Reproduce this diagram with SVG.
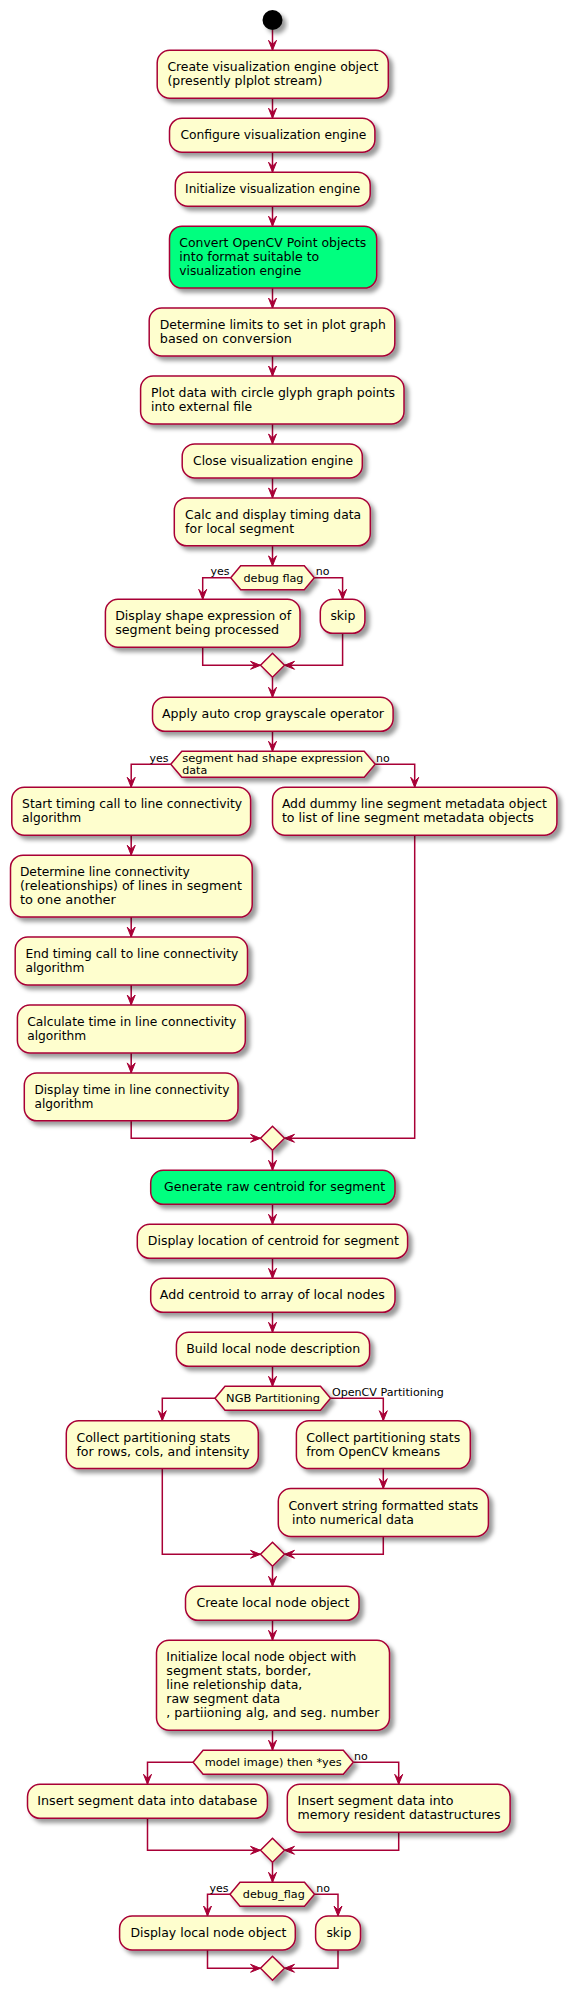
<svg xmlns="http://www.w3.org/2000/svg" width="568" height="1991" viewBox="0 0 568 1991">
<defs>
<filter id="sh" x="-20%" y="-20%" width="150%" height="160%">
<feGaussianBlur in="SourceAlpha" stdDeviation="2"/>
<feColorMatrix type="matrix" values="0 0 0 0 0  0 0 0 0 0  0 0 0 0 0  0 0 0 0.4 0"/>
<feOffset dx="4" dy="4" result="s"/>
<feBlend in="SourceGraphic" in2="s" mode="normal"/>
</filter>
<marker id="ah" markerUnits="userSpaceOnUse" orient="auto" viewBox="-11 -5 12 10" markerWidth="12" markerHeight="10" refX="0" refY="0">
<path d="M-10,-4 L0,0 L-10,4 L-6,0 Z" fill="#A80036" stroke="#A80036" stroke-width="1"/>
</marker>
</defs>
<style>
.a{fill:#FEFECE;stroke:#A80036;stroke-width:1.5;filter:url(#sh)}
.g{fill:#00FF7F;stroke:#A80036;stroke-width:1.5;filter:url(#sh)}
.t{font-family:"DejaVu Sans",sans-serif;font-size:12px;fill:#000}
.s{font-family:"DejaVu Sans",sans-serif;font-size:11px;fill:#000}
.l{fill:none;stroke:#A80036;stroke-width:1.5}
.m{marker-end:url(#ah)}
</style>
<rect width="568" height="1991" fill="#FFFFFF"/>

<g id="connectors">
<path class="l m" d="M272.5,30 V50.3"/>
<path class="l m" d="M272.5,98.2 V118.2"/>
<path class="l m" d="M272.5,152.2 V172.2"/>
<path class="l m" d="M272.5,206.2 V226.2"/>
<path class="l m" d="M272.5,288.1 V308.1"/>
<path class="l m" d="M272.5,356 V376"/>
<path class="l m" d="M272.5,423.9 V443.9"/>
<path class="l m" d="M272.5,477.9 V497.9"/>
<path class="l m" d="M272.5,545.8 V565.8"/>
<path class="l m" d="M230.7,577.8 H202.7 V599.3"/>
<path class="l m" d="M314.3,577.8 H342.6 V599.3"/>
<path class="l m" d="M202.7,647.2 V665.3 H260.5"/>
<path class="l m" d="M342.6,633.3 V665.3 H284.5"/>
<path class="l m" d="M272.5,677.3 V697.3"/>
<path class="l m" d="M272.5,731.3 V751.3"/>
<path class="l m" d="M170.8,764.3 H131.2 V787.3"/>
<path class="l m" d="M375.2,764.3 H414.7 V787.3"/>
<path class="l m" d="M131.2,835.2 V855.2"/>
<path class="l m" d="M131.2,917.1 V937.1"/>
<path class="l m" d="M131.2,985 V1005"/>
<path class="l m" d="M131.2,1052.9 V1072.9"/>
<path class="l m" d="M131.2,1120.8 V1138.3 H260.5"/>
<path class="l m" d="M414.7,835.2 V1138.3 H284.5"/>
<path class="l m" d="M272.5,1150.3 V1170.3"/>
<path class="l m" d="M272.5,1204.3 V1224.3"/>
<path class="l m" d="M272.5,1258.3 V1278.3"/>
<path class="l m" d="M272.5,1312.3 V1332.3"/>
<path class="l m" d="M272.5,1366.3 V1386.3"/>
<path class="l m" d="M215,1398.3 H162.3 V1420.7"/>
<path class="l m" d="M330.5,1398.3 H383.3 V1420.7"/>
<path class="l m" d="M383.3,1468.6 V1488.6"/>
<path class="l m" d="M162.3,1468.6 V1554.3 H260.5"/>
<path class="l m" d="M383.3,1536.5 V1554.3 H284.5"/>
<path class="l m" d="M272.5,1566.3 V1586.3"/>
<path class="l m" d="M272.5,1620.3 V1640.3"/>
<path class="l m" d="M272.5,1730.2 V1750.2"/>
<path class="l m" d="M193.1,1762.2 H147.5 V1784.3"/>
<path class="l m" d="M353.3,1762.2 H398.7 V1784.3"/>
<path class="l m" d="M147.5,1818.3 V1850.3 H260.5"/>
<path class="l m" d="M398.7,1832.2 V1850.3 H284.5"/>
<path class="l m" d="M272.5,1862.3 V1882.3"/>
<path class="l m" d="M230,1894.3 H207.5 V1916"/>
<path class="l m" d="M314.5,1894.3 H338 V1916"/>
<path class="l m" d="M207.5,1950 V1968.3 H260.5"/>
<path class="l m" d="M338,1950 V1968.3 H284.5"/>
<text class="s" x="210.5" y="574.5">yes</text>
<text class="s" x="315.8" y="574.5">no</text>
<text class="s" x="149.6" y="761.5">yes</text>
<text class="s" x="376" y="761.5">no</text>
<text class="s" x="331.9" y="1395.8" textLength="112" lengthAdjust="spacingAndGlyphs">OpenCV Partitioning</text>
<text class="s" x="354" y="1759.5">no</text>
<text class="s" x="209.4" y="1891.6">yes</text>
<text class="s" x="316.3" y="1891.6">no</text>
</g>

<g id="start"><circle cx="272.5" cy="20" r="10" fill="#000000" filter="url(#sh)"/></g>

<g id="n1"><rect class="a" x="157.2" y="50.3" width="231.1" height="47.9" rx="12.5"/>
<text class="t" x="167.4" y="71.4" textLength="211" lengthAdjust="spacingAndGlyphs">Create visualization engine object</text>
<text class="t" x="167.4" y="85.4" textLength="155" lengthAdjust="spacingAndGlyphs">(presently plplot stream)</text></g>

<g id="n2"><rect class="a" x="169.5" y="118.2" width="205.4" height="34" rx="12.5"/>
<text class="t" x="180.4" y="139.3" textLength="186" lengthAdjust="spacingAndGlyphs">Configure visualization engine</text></g>

<g id="n3"><rect class="a" x="175.3" y="172.2" width="194.9" height="34" rx="12.5"/>
<text class="t" x="185.1" y="193.3" textLength="175" lengthAdjust="spacingAndGlyphs">Initialize visualization engine</text></g>

<g id="n4"><rect class="g" x="169.5" y="226.2" width="207.2" height="61.9" rx="12.5"/>
<text class="t" x="179.3" y="247.3" textLength="187" lengthAdjust="spacingAndGlyphs">Convert OpenCV Point objects</text>
<text class="t" x="179.3" y="261.3" textLength="140" lengthAdjust="spacingAndGlyphs">into format suitable to</text>
<text class="t" x="179.3" y="275.3" textLength="122" lengthAdjust="spacingAndGlyphs">visualization engine</text></g>

<g id="n5"><rect class="a" x="149.2" y="308.1" width="245.6" height="47.9" rx="12.5"/>
<text class="t" x="159.8" y="329.2" textLength="226" lengthAdjust="spacingAndGlyphs">Determine limits to set in plot graph</text>
<text class="t" x="159.8" y="343.2" textLength="132" lengthAdjust="spacingAndGlyphs">based on conversion</text></g>

<g id="n6"><rect class="a" x="140.6" y="376" width="263.4" height="47.9" rx="12.5"/>
<text class="t" x="151.1" y="397.1" textLength="244" lengthAdjust="spacingAndGlyphs">Plot data with circle glyph graph points</text>
<text class="t" x="151.1" y="411.1" textLength="101" lengthAdjust="spacingAndGlyphs">into external file</text></g>

<g id="n7"><rect class="a" x="182.2" y="443.9" width="180.1" height="34" rx="12.5"/>
<text class="t" x="193.1" y="465" textLength="160" lengthAdjust="spacingAndGlyphs">Close visualization engine</text></g>

<g id="n8"><rect class="a" x="174.3" y="497.9" width="196" height="47.9" rx="12.5"/>
<text class="t" x="185.1" y="519" textLength="176" lengthAdjust="spacingAndGlyphs">Calc and display timing data</text>
<text class="t" x="185.1" y="533" textLength="109" lengthAdjust="spacingAndGlyphs">for local segment</text></g>

<g id="d1"><polygon class="a" points="230.7,577.8 240.7,565.8 304.3,565.8 314.3,577.8 304.3,589.8 240.7,589.8"/>
<text class="s" x="243.5" y="581.8" textLength="60" lengthAdjust="spacingAndGlyphs">debug flag</text></g>

<g id="n9"><rect class="a" x="105.4" y="599.3" width="194.6" height="47.9" rx="12.5"/>
<text class="t" x="115.2" y="620.4" textLength="176" lengthAdjust="spacingAndGlyphs">Display shape expression of</text>
<text class="t" x="115.2" y="634.4" textLength="164" lengthAdjust="spacingAndGlyphs">segment being processed</text></g>

<g id="n10"><rect class="a" x="320.3" y="599.3" width="44.6" height="34" rx="12.5"/>
<text class="t" x="330.4" y="620.4" textLength="25" lengthAdjust="spacingAndGlyphs">skip</text></g>

<g id="m1"><polygon class="a" points="272.5,653.3 284.5,665.3 272.5,677.3 260.5,665.3"/></g>

<g id="n11"><rect class="a" x="152.5" y="697.3" width="240.6" height="34" rx="12.5"/>
<text class="t" x="162" y="718.4" textLength="222" lengthAdjust="spacingAndGlyphs">Apply auto crop grayscale operator</text></g>

<g id="d2"><polygon class="a" points="170.8,764.3 181.8,751.3 364.2,751.3 375.2,764.3 364.2,777.3 181.8,777.3"/>
<text class="s" x="182.2" y="762.3" textLength="181" lengthAdjust="spacingAndGlyphs">segment had shape expression</text>
<text class="s" x="182.2" y="773.7" textLength="25" lengthAdjust="spacingAndGlyphs">data</text></g>

<g id="n12"><rect class="a" x="11.8" y="787.3" width="238.8" height="47.9" rx="12.5"/>
<text class="t" x="22.1" y="808.4" textLength="220" lengthAdjust="spacingAndGlyphs">Start timing call to line connectivity</text>
<text class="t" x="22.1" y="822.4" textLength="59" lengthAdjust="spacingAndGlyphs">algorithm</text></g>

<g id="n13"><rect class="a" x="272.5" y="787.3" width="284.4" height="47.9" rx="12.5"/>
<text class="t" x="281.9" y="808.4" textLength="265" lengthAdjust="spacingAndGlyphs">Add dummy line segment metadata object</text>
<text class="t" x="281.9" y="822.4" textLength="252" lengthAdjust="spacingAndGlyphs">to list of line segment metadata objects</text></g>

<g id="n14"><rect class="a" x="10.5" y="855.2" width="241.7" height="61.9" rx="12.5"/>
<text class="t" x="19.9" y="876.3" textLength="170" lengthAdjust="spacingAndGlyphs">Determine line connectivity</text>
<text class="t" x="19.9" y="890.3" textLength="222" lengthAdjust="spacingAndGlyphs">(releationships) of lines in segment</text>
<text class="t" x="19.9" y="904.3" textLength="96" lengthAdjust="spacingAndGlyphs">to one another</text></g>

<g id="n15"><rect class="a" x="15.2" y="937.1" width="232.3" height="47.9" rx="12.5"/>
<text class="t" x="25.4" y="958.2" textLength="213" lengthAdjust="spacingAndGlyphs">End timing call to line connectivity</text>
<text class="t" x="25.4" y="972.2" textLength="59" lengthAdjust="spacingAndGlyphs">algorithm</text></g>

<g id="n16"><rect class="a" x="17.4" y="1005" width="227.9" height="47.9" rx="12.5"/>
<text class="t" x="27.2" y="1026.1" textLength="209" lengthAdjust="spacingAndGlyphs">Calculate time in line connectivity</text>
<text class="t" x="27.2" y="1040.1" textLength="59" lengthAdjust="spacingAndGlyphs">algorithm</text></g>

<g id="n17"><rect class="a" x="24.3" y="1072.9" width="213.7" height="47.9" rx="12.5"/>
<text class="t" x="34.4" y="1094" textLength="195" lengthAdjust="spacingAndGlyphs">Display time in line connectivity</text>
<text class="t" x="34.4" y="1108" textLength="59" lengthAdjust="spacingAndGlyphs">algorithm</text></g>

<g id="m2"><polygon class="a" points="272.5,1126.3 284.5,1138.3 272.5,1150.3 260.5,1138.3"/></g>

<g id="n18"><rect class="g" x="150.7" y="1170.3" width="244.3" height="34" rx="12.5"/>
<text class="t" x="164.1" y="1191.4" textLength="221" lengthAdjust="spacingAndGlyphs">Generate raw centroid for segment</text></g>

<g id="n19"><rect class="a" x="137.3" y="1224.3" width="270.3" height="34" rx="12.5"/>
<text class="t" x="147.8" y="1245.4" textLength="251" lengthAdjust="spacingAndGlyphs">Display location of centroid for segment</text></g>

<g id="n20"><rect class="a" x="150.7" y="1278.3" width="244.3" height="34" rx="12.5"/>
<text class="t" x="159.8" y="1299.4" textLength="225" lengthAdjust="spacingAndGlyphs">Add centroid to array of local nodes</text></g>

<g id="n21"><rect class="a" x="176.4" y="1332.3" width="193.2" height="34" rx="12.5"/>
<text class="t" x="186.2" y="1353.4" textLength="174" lengthAdjust="spacingAndGlyphs">Build local node description</text></g>

<g id="d3"><polygon class="a" points="215,1398.3 225,1386.3 320.5,1386.3 330.5,1398.3 320.5,1410.3 225,1410.3"/>
<text class="s" x="226.1" y="1402" textLength="94" lengthAdjust="spacingAndGlyphs">NGB Partitioning</text></g>

<g id="n22"><rect class="a" x="66.3" y="1420.7" width="192" height="47.9" rx="12.5"/>
<text class="t" x="76.4" y="1441.8" textLength="154" lengthAdjust="spacingAndGlyphs">Collect partitioning stats</text>
<text class="t" x="76.4" y="1455.8" textLength="173" lengthAdjust="spacingAndGlyphs">for rows, cols, and intensity</text></g>

<g id="n23"><rect class="a" x="296.4" y="1420.7" width="173.9" height="47.9" rx="12.5"/>
<text class="t" x="306.2" y="1441.8" textLength="154" lengthAdjust="spacingAndGlyphs">Collect partitioning stats</text>
<text class="t" x="306.2" y="1455.8" textLength="134" lengthAdjust="spacingAndGlyphs">from OpenCV kmeans</text></g>

<g id="n24"><rect class="a" x="278.3" y="1488.6" width="210.1" height="47.9" rx="12.5"/>
<text class="t" x="288.4" y="1509.7" textLength="190" lengthAdjust="spacingAndGlyphs">Convert string formatted stats</text>
<text class="t" x="292" y="1523.7" textLength="122" lengthAdjust="spacingAndGlyphs">into numerical data</text></g>

<g id="m3"><polygon class="a" points="272.5,1542.3 284.5,1554.3 272.5,1566.3 260.5,1554.3"/></g>

<g id="n25"><rect class="a" x="185.5" y="1586.3" width="173.5" height="34" rx="12.5"/>
<text class="t" x="196.4" y="1607.4" textLength="153" lengthAdjust="spacingAndGlyphs">Create local node object</text></g>

<g id="n26"><rect class="a" x="156.5" y="1640.3" width="233" height="89.9" rx="12.5"/>
<text class="t" x="166.3" y="1661.4" textLength="190" lengthAdjust="spacingAndGlyphs">Initialize local node object with</text>
<text class="t" x="166.3" y="1675.4" textLength="145" lengthAdjust="spacingAndGlyphs">segment stats, border,</text>
<text class="t" x="166.3" y="1689.4" textLength="136" lengthAdjust="spacingAndGlyphs">line reletionship data,</text>
<text class="t" x="166.3" y="1703.4" textLength="114" lengthAdjust="spacingAndGlyphs">raw segment data</text>
<text class="t" x="166.3" y="1717.4" textLength="213" lengthAdjust="spacingAndGlyphs">, partiioning alg, and seg. number</text></g>

<g id="d4"><polygon class="a" points="193.1,1762.2 203.1,1750.2 343.3,1750.2 353.3,1762.2 343.3,1774.2 203.1,1774.2"/>
<text class="s" x="204.7" y="1766" textLength="137" lengthAdjust="spacingAndGlyphs">model image) then *yes</text></g>

<g id="n27"><rect class="a" x="27.5" y="1784.3" width="239.9" height="34" rx="12.5"/>
<text class="t" x="37.3" y="1805.4" textLength="220" lengthAdjust="spacingAndGlyphs">Insert segment data into database</text></g>

<g id="n28"><rect class="a" x="287.3" y="1784.3" width="222.8" height="47.9" rx="12.5"/>
<text class="t" x="297.5" y="1805.4" textLength="156" lengthAdjust="spacingAndGlyphs">Insert segment data into</text>
<text class="t" x="297.5" y="1819.4" textLength="203" lengthAdjust="spacingAndGlyphs">memory resident datastructures</text></g>

<g id="m4"><polygon class="a" points="272.5,1838.3 284.5,1850.3 272.5,1862.3 260.5,1850.3"/></g>

<g id="d5"><polygon class="a" points="230,1894.3 240,1882.3 304.5,1882.3 314.5,1894.3 304.5,1906.3 240,1906.3"/>
<text class="s" x="242.8" y="1898.3" textLength="62" lengthAdjust="spacingAndGlyphs">debug_flag</text></g>

<g id="n29"><rect class="a" x="119.6" y="1916" width="175.7" height="34" rx="12.5"/>
<text class="t" x="130.4" y="1937.1" textLength="156" lengthAdjust="spacingAndGlyphs">Display local node object</text></g>

<g id="n30"><rect class="a" x="315.6" y="1916" width="44.9" height="34" rx="12.5"/>
<text class="t" x="326.4" y="1937.1" textLength="25" lengthAdjust="spacingAndGlyphs">skip</text></g>

<g id="m5"><polygon class="a" points="272.5,1956.3 284.5,1968.3 272.5,1980.3 260.5,1968.3"/></g>
</svg>
